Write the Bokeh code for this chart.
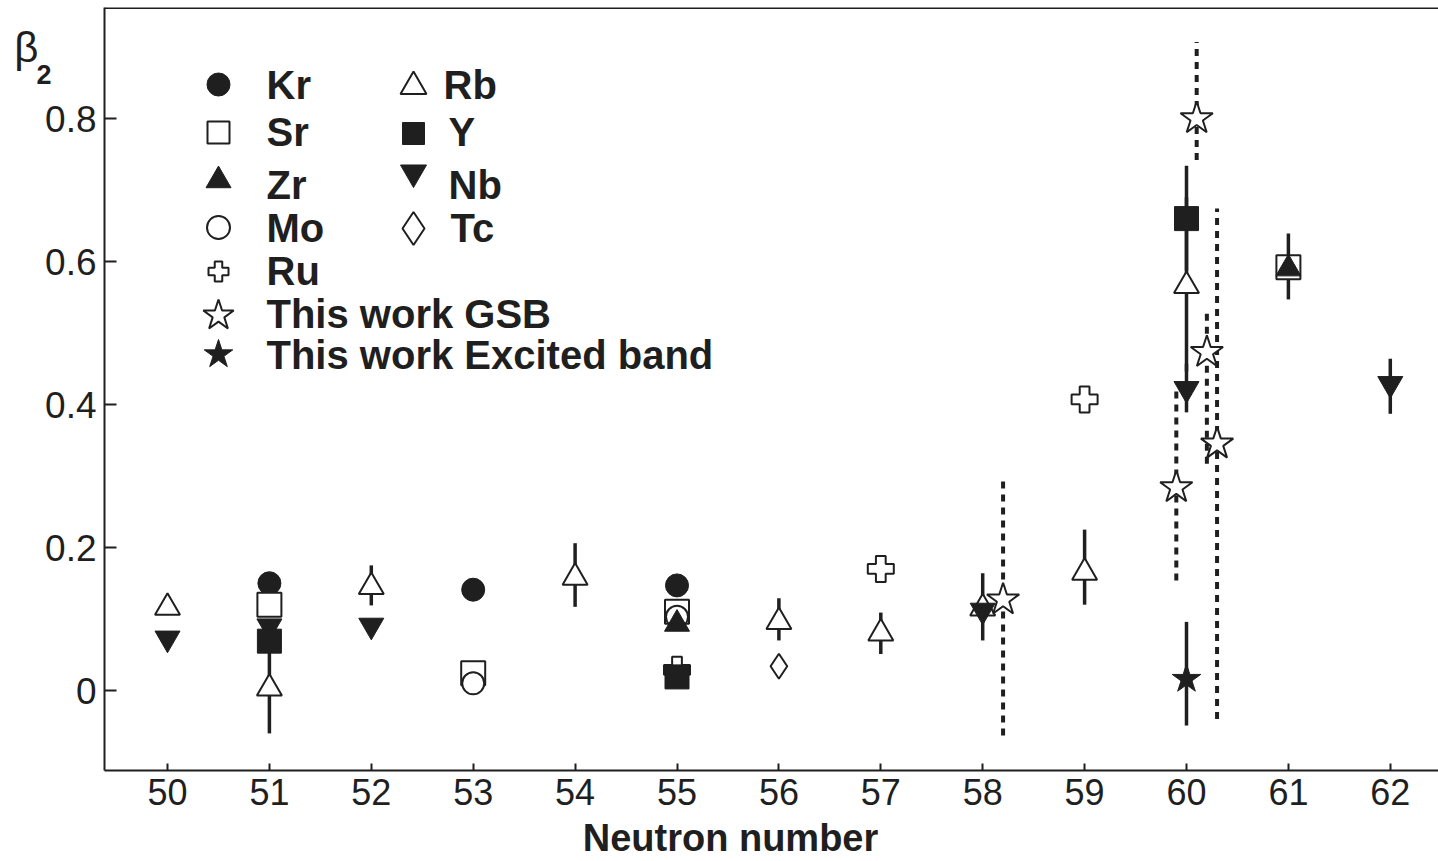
from bokeh.plotting import figure
from bokeh.models import Range1d, Span, FixedTicker, LinearAxis
from bokeh.embed import file_html
from bokeh.resources import INLINE
from bokeh.core.properties import value

# ---------------- data: quadrupole deformation beta_2 vs neutron number ----------------
# (None in *_lo / *_hi means no error bar for that point)
kr_n = [51, 53, 55]
kr_b = [0.150, 0.141, 0.147]

sr_n = [51, 53, 55, 61]
sr_b = [0.120, 0.024, 0.110, 0.592]

zr_n = [55, 61]
zr_b = [0.093, 0.590]
zr_lo = [None, 0.547]
zr_hi = [None, 0.639]

mo_n = [53, 55]
mo_b = [0.010, 0.103]

ru_n = [55, 57, 59]
ru_b = [0.029, 0.170, 0.407]

rb_n = [50, 51, 52, 54, 56, 57, 58, 59, 60]
rb_b = [0.116, 0.003, 0.145, 0.158, 0.096, 0.080, 0.115, 0.165, 0.566]
rb_lo = [None, -0.060, 0.119, 0.117, 0.070, 0.051, None, 0.120, 0.446]
rb_hi = [None, 0.054, 0.175, 0.206, 0.129, 0.109, None, 0.225, 0.690]

y_n = [51, 55, 60]
y_b = [0.069, 0.019, 0.660]
y_lo = [None, None, 0.587]
y_hi = [None, None, 0.734]

nb_n = [50, 51, 52, 58, 60, 62]
nb_b = [0.073, 0.090, 0.091, 0.112, 0.422, 0.429]
nb_lo = [None, None, None, 0.070, 0.389, 0.387]
nb_hi = [None, None, None, 0.164, 0.457, 0.464]

tc_n = [56]
tc_b = [0.034]

gsb_n = [58.2, 59.9, 60.1, 60.2, 60.3]
gsb_b = [0.127, 0.284, 0.800, 0.473, 0.345]
gsb_lo = [-0.063, 0.154, 0.742, 0.317, -0.040]
gsb_hi = [0.300, 0.420, 0.907, 0.534, 0.674]

exc_n = [60]
exc_b = [0.016]
exc_lo = [-0.049]
exc_hi = [0.096]

x_ticks = [50, 51, 52, 53, 54, 55, 56, 57, 58, 59, 60, 61, 62]
y_ticks = [0, 0.2, 0.4, 0.6, 0.8]
y_tick_labels = ["0", "0.2", "0.4", "0.6", "0.8"]

legend_col1 = ["Kr", "Sr", "Zr", "Mo", "Ru", "This work GSB", "This work Excited band"]
legend_col2 = ["Rb", "Y", "Nb", "Tc"]

x_title = "Neutron number"
y_title_symbol = "β"
y_title_index = "2"

# ---------------- layout ----------------
W, H = 1438, 861
FRAME_L, FRAME_T, FRAME_B = 104, 7, 770
N50_PX, PX_PER_N = 167.0, 101.9
B0_PX, PX_PER_B = 690.0, 715.0


def px_x(px):
    return 50 + (px - N50_PX) / PX_PER_N


def px_y(py):
    return (B0_PX - py) / PX_PER_B


INK = "#1f1f1f"
FONT = "Liberation Sans"

p = figure(width=W, height=H, output_backend="svg", toolbar_location=None,
           x_range=Range1d(px_x(FRAME_L), px_x(W)),
           y_range=Range1d(px_y(FRAME_B), px_y(FRAME_T)),
           min_border_left=FRAME_L, min_border_right=0,
           min_border_top=FRAME_T, min_border_bottom=H - FRAME_B)
p.background_fill_color = "white"
p.border_fill_color = "white"
p.outline_line_color = None
p.xgrid.visible = False
p.ygrid.visible = False

for ax in (p.xaxis[0], p.yaxis[0]):
    ax.axis_line_color = INK
    ax.axis_line_width = 2
    ax.major_tick_line_color = INK
    ax.major_tick_line_width = 2
    ax.major_tick_out = 0
    ax.minor_tick_line_color = None
    ax.major_label_text_font = FONT
    ax.major_label_text_font_size = "36px"
    ax.major_label_text_color = INK

p.xaxis.ticker = FixedTicker(ticks=x_ticks)
p.xaxis.major_tick_in = 7
p.xaxis.major_label_standoff = 8
p.yaxis.ticker = FixedTicker(ticks=y_ticks)
p.yaxis.major_label_overrides = dict(zip(y_ticks, y_tick_labels))
p.yaxis.major_tick_in = 12
p.yaxis.major_label_standoff = 8
p.yaxis.major_label_text_font_size = "37px"


# axis titles: bare axes (no line, no ticks) carrying a single text label
def title_axis(side, pos, text, size, bold, standoff):
    ax = LinearAxis(ticker=FixedTicker(ticks=[pos]),
                    major_label_overrides={pos: text},
                    axis_line_color=None, major_tick_line_color=None,
                    minor_tick_line_color=None, major_tick_in=0, major_tick_out=0,
                    major_label_standoff=standoff,
                    major_label_text_font=FONT, major_label_text_font_size=size,
                    major_label_text_font_style="bold" if bold else "normal",
                    major_label_text_color=INK)
    p.add_layout(ax, side)


title_axis("below", px_x(730), x_title, "38px", True, 9)
title_axis("left", px_y(74), y_title_index, "27px", True, -9)
title_axis("left", px_y(47), y_title_symbol, "42px", False, -5)

# top border of the frame
p.add_layout(Span(location=px_y(FRAME_T) - 0.5 / PX_PER_B, dimension="width",
                  line_color=INK, line_width=2))


# ---------------- error bars ----------------
def bars(ns, lo, hi, dash="solid", width=3.5):
    pts = [(n, a, b) for n, a, b in zip(ns, lo, hi) if a is not None]
    if not pts:
        return
    xs = [t[0] for t in pts]
    p.segment(x0=xs, y0=[t[1] for t in pts], x1=xs, y1=[t[2] for t in pts],
              line_color=INK, line_width=width, line_dash=dash)


bars(zr_n, zr_lo, zr_hi)
bars(rb_n, rb_lo, rb_hi)
bars(y_n, y_lo, y_hi)
bars(nb_n, nb_lo, nb_hi)
bars(exc_n, exc_lo, exc_hi)
bars(gsb_n, gsb_lo, gsb_hi, dash="7 6", width=4)

# ---------------- markers ----------------
OPEN = dict(fill_color="white", line_color=INK, line_width=2)
FULL = dict(fill_color=INK, line_color=INK, line_width=1)

p.scatter(kr_n, kr_b, marker="circle", size=23, **FULL)
p.scatter(rb_n, rb_b, marker="triangle", size=25, **OPEN)
p.scatter(nb_n, nb_b, marker="inverted_triangle", size=25, **FULL)
p.scatter(sr_n, sr_b, marker="square", size=24, **OPEN)
p.scatter(mo_n, mo_b, marker="circle", size=22, **OPEN)
p.scatter(zr_n, zr_b, marker="triangle", size=25, **FULL)
p.scatter(ru_n, ru_b, marker="plus", size=26, **OPEN)
p.scatter(y_n, y_b, marker="square", size=24, **FULL)
p.scatter(tc_n, tc_b, marker="diamond", size=25, **OPEN)
p.scatter(gsb_n, gsb_b, marker="star", size=34, **OPEN)
p.scatter(exc_n, exc_b, marker="star", size=30, **FULL)

# ---------------- legend (two columns) ----------------
leg_style = {
    "Kr": ("circle", FULL, 23), "Sr": ("square", OPEN, 22), "Zr": ("triangle", FULL, 25),
    "Mo": ("circle", OPEN, 23), "Ru": ("plus", OPEN, 20),
    "This work GSB": ("star", OPEN, 32), "This work Excited band": ("star", FULL, 30),
    "Rb": ("triangle", OPEN, 26), "Y": ("square", FULL, 22),
    "Nb": ("inverted_triangle", FULL, 26), "Tc": ("diamond", OPEN, 33),
}
col1_mark_x, col1_text_x = 218, 266
col1_mark_y = [84, 132, 180, 227, 271, 315, 354]
col1_text_y = [84, 131, 184, 227, 270, 313, 354]
col2_mark_x = 413
col2_text_x = [443, 448, 448, 450]
col2_mark_y = [86, 133, 172, 228]
col2_text_y = [84, 131, 184, 227]

entries = []
for i, name in enumerate(legend_col1):
    entries.append((name, col1_mark_x, col1_mark_y[i], col1_text_x, col1_text_y[i]))
for i, name in enumerate(legend_col2):
    entries.append((name, col2_mark_x, col2_mark_y[i], col2_text_x[i], col2_text_y[i]))

for name, mx, my, tx, ty in entries:
    mk, sty, sz = leg_style[name]
    p.scatter([px_x(mx)], [px_y(my)], marker=mk, size=sz, **sty)

p.text(x=[px_x(e[3]) for e in entries], y=[px_y(e[4]) for e in entries],
       text=[e[0] for e in entries], text_font=value(FONT), text_font_style="bold",
       text_font_size="40px", text_color=INK, text_align="left", text_baseline="middle")

open("out.html", "w").write(file_html(p, INLINE))
